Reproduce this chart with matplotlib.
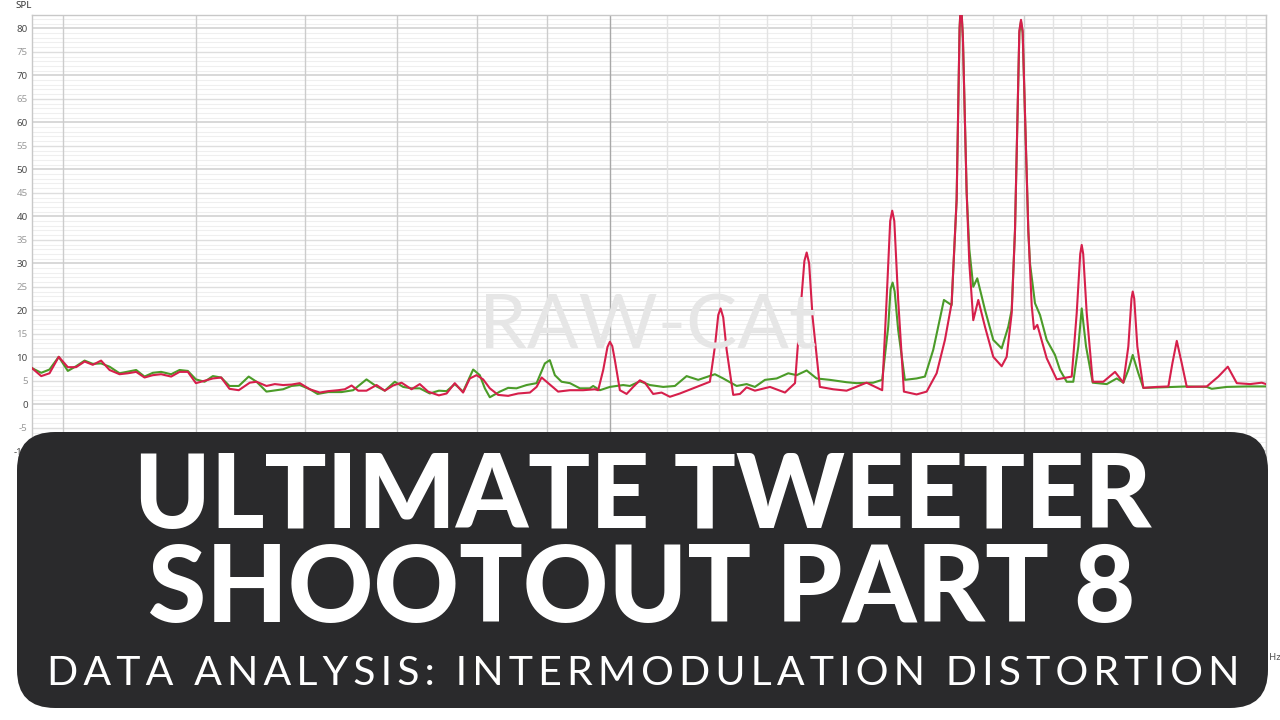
import matplotlib
matplotlib.use('Agg')
import matplotlib.pyplot as plt
from matplotlib.patches import FancyBboxPatch
from matplotlib.transforms import IdentityTransform

# ---------------- data ----------------
freq_red = [3800, 3859, 3913, 3974, 4035, 4091, 4150, 4207, 4266, 4327, 4400, 4461, 4524, 4588,
            4652, 4717, 4797, 4865, 4933, 5000, 5073, 5144, 5216, 5289, 5372, 5472, 5534, 5627,
            5706, 5786, 5868, 5950, 6051, 6153, 6240, 6345, 6416, 6489, 6561, 6653, 6766, 6860,
            6956, 7055, 7174, 7274, 7376, 7510, 7608, 7713, 7821, 7910, 7999, 8088, 8179, 8294,
            8434, 8576, 8747, 8845, 8920, 9019, 9170, 9353, 9563, 9751, 9806, 9889, 9960, 10000,
            10040, 10084, 10169, 10284, 10398, 10515, 10603, 10752, 10904, 11057, 11244, 11497,
            11823, 11923, 11990, 12037, 12090, 12159, 12294, 12433, 12573, 12749, 13074, 13407,
            13634, 13748, 13850, 13903, 13960, 14041, 14214, 14534, 14864, 15370, 15777, 15894,
            15990, 16044, 16100, 16205, 16361, 16713, 16996, 17283, 17525, 17722, 17871, 17960,
            18001, 18060, 18174, 18255, 18376, 18531, 18740, 19002, 19271, 19433, 19597, 19706,
            19850, 19905, 19960, 20150, 20265, 20343, 20456, 20780, 21131, 21669, 21851, 21980,
            22035, 22090, 22220, 22445, 22847, 23299, 23626, 23824, 23950, 24000, 24060, 24186,
            24430, 24985, 25476, 25647, 25837, 26054, 26273, 27168, 27701, 28141, 28568, 29212,
            29789, 30000]
spl_red = [7.7, 6.0, 6.6, 10.1, 7.9, 7.9, 9.1, 8.4, 9.3, 7.3, 6.4, 6.6, 6.9, 5.7,
           6.2, 6.4, 5.9, 6.9, 6.9, 4.5, 5.0, 5.5, 5.7, 3.3, 3.0, 4.6, 4.8, 3.9,
           4.3, 4.1, 4.2, 4.5, 3.2, 2.5, 2.8, 3.0, 3.2, 4.0, 2.9, 2.9, 4.1, 2.9,
           4.0, 4.6, 3.2, 4.3, 2.7, 1.9, 2.3, 4.5, 2.5, 5.5, 6.2, 5.3, 3.4, 2.0,
           1.8, 2.3, 2.5, 3.7, 5.7, 4.5, 2.7, 3.0, 3.0, 3.2, 3.0, 7.3, 12.2, 13.3,
           12.4, 9.4, 3.0, 2.2, 3.7, 5.1, 4.6, 2.2, 2.5, 1.6, 2.3, 3.4,
           4.8, 12.3, 19.0, 20.4, 18.5, 11.6, 2.0, 2.2, 3.6, 2.9, 3.7, 2.5,
           4.5, 18.6, 30.5, 32.3, 30.0, 18.6, 3.7, 3.2, 2.9, 4.6, 3.0, 22.2,
           39.0, 41.2, 39.0, 22.2, 2.7, 2.1, 2.7, 6.6, 13.7, 21.5, 43.5, 80.0,
           86.0, 78.0, 45.0, 30.0, 17.9, 22.2, 16.5, 10.1, 8.1, 10.1, 19.4, 37.0,
           79.5, 81.8, 79.5, 37.0, 21.0, 16.0, 16.9, 9.8, 5.3, 5.9, 19.4, 32.0,
           33.9, 32.0, 19.4, 4.8, 4.8, 6.9, 4.6, 12.3, 22.5, 24.0, 22.5, 12.3,
           3.5, 3.7, 3.8, 8.7, 13.5, 8.7, 3.7, 3.8, 5.9, 8.0, 4.5, 4.3,
           4.6, 4.3]

freq_green = [3800, 3859, 3913, 3974, 4035, 4091, 4150, 4207, 4266, 4327, 4400, 4524, 4588, 4652,
              4717, 4797, 4865, 4933, 5000, 5073, 5144, 5216, 5289, 5372, 5462, 5534, 5627, 5786,
              5868, 5950, 6051, 6130, 6240, 6380, 6506, 6653, 6766, 6860, 6976, 7074, 7174, 7274,
              7397, 7510, 7608, 7713, 7821, 7954, 8043, 8111, 8179, 8318, 8434, 8553, 8698, 8845,
              8969, 9043, 9120, 9223, 9353, 9510, 9670, 9724, 9834, 10000, 10225, 10341, 10515,
              10692, 10934, 11150, 11371, 11594, 11923, 12090, 12365, 12573, 12749, 12965, 13222,
              13481, 13672, 13903, 14136, 14454, 14864, 15115, 15541, 15777, 15937, 16000, 16055,
              16110, 16205, 16388, 16713, 16947, 17185, 17495, 17722, 17871, 17960, 18001, 18060,
              18174, 18255, 18376, 18500, 18740, 19002, 19271, 19485, 19597, 19706, 19850, 19905,
              19960, 20150, 20207, 20377, 20549, 20780, 21071, 21248, 21488, 21727, 21910, 22035,
              22195, 22445, 22978, 23366, 23626, 23824, 24000, 24227, 24430, 25119, 26273, 27168,
              27397, 28094, 29050, 30000]
spl_green = [7.7, 6.7, 7.4, 10.1, 7.1, 8.1, 9.3, 8.6, 8.7, 8.0, 6.6, 7.3, 5.9, 6.7,
             6.9, 6.4, 7.3, 7.1, 5.3, 4.8, 6.0, 5.7, 3.9, 3.9, 5.9, 4.8, 2.7, 3.2,
             3.9, 4.1, 3.2, 2.2, 2.6, 2.6, 3.0, 5.3, 3.8, 2.9, 4.8, 3.7, 3.4, 3.4,
             2.3, 2.9, 2.8, 4.3, 2.7, 7.4, 6.2, 3.4, 1.5, 2.7, 3.5, 3.4, 4.1, 4.5,
             8.7, 9.4, 6.2, 4.8, 4.5, 3.4, 3.4, 3.9, 3.0, 3.7, 4.1, 3.9, 4.9,
             4.1, 3.7, 3.9, 6.0, 5.2, 6.4, 5.5, 3.9, 4.3, 3.7, 5.2, 5.5,
             6.6, 6.2, 7.2, 5.5, 5.2, 4.7, 4.5, 4.6, 5.2, 16.5, 24.5, 25.9,
             24.0, 15.8, 5.2, 5.5, 5.9, 11.6, 22.2, 21.1, 43.5, 80.0, 86.0, 78.0,
             45.0, 33.0, 25.0, 26.8, 20.1, 13.7, 11.9, 16.5, 20.1, 37.0, 79.0, 81.5,
             79.0, 37.0, 30.0, 21.5, 19.0, 13.7, 10.5, 7.3, 4.8, 4.8, 12.3, 20.4,
             12.3, 4.6, 4.3, 5.5, 4.6, 7.3, 10.5, 6.6, 3.5, 3.6, 3.8, 3.7,
             3.3, 3.7, 3.8, 3.8]

ytick_values = list(range(-50, 85, 5))
ytick_labelled = list(range(-10, 85, 5))
vgrid_freqs = list(range(4000, 30001, 1000))
y_label = "SPL"
x_unit = "Hz"
watermark = "RAW-CAt"
title_lines = ["ULTIMATE TWEETER", "SHOOTOUT PART 8"]
subtitle = "DATA ANALYSIS: INTERMODULATION DISTORTION"

# ---------------- figure ----------------
W, H = 1280, 720
fig = plt.figure(figsize=(W / 100, H / 100), dpi=100)
fig.patch.set_facecolor('white')

ax_l, ax_r, ax_t, ax_b = 32, 1266, 15, 648
ax = fig.add_axes([ax_l / W, 1 - ax_b / H, (ax_r - ax_l) / W, (ax_b - ax_t) / H])
ax.set_xscale('log')
ax.set_xlim(3800, 30000)
ax.set_ylim(-51.85, 82.83)
ax.set_facecolor('white')

# horizontal grid: 1 dB minor, 5 dB, 10 dB
for v in range(-51, 83):
    if v % 10 == 0:
        c, lw = '#d2d2d2', 1.2
    elif v % 5 == 0:
        c, lw = '#dedede', 1.0
    else:
        c, lw = '#efefef', 0.8
    ax.axhline(v, color=c, lw=lw, zorder=0)

# vertical grid at every kHz
for f in vgrid_freqs:
    if f == 10000:
        c, lw = '#a8a8a8', 1.0
    elif f < 10000:
        c, lw = '#cccccc', 1.0
    elif f == 20000:
        c, lw = '#cfcfcf', 1.0
    else:
        c, lw = '#e3e3e3', 1.0
    ax.axvline(f, color=c, lw=lw, zorder=0)

for s in ax.spines.values():
    s.set_color('#c8c8c8')
    s.set_linewidth(1.0)

ax.set_xticks([])
ax.set_xticks([], minor=True)
ax.set_yticks(ytick_values)
ax.set_yticklabels([str(v) if v in ytick_labelled else '' for v in ytick_values],
                   family=['Noto Sans', 'DejaVu Sans'])
ax.tick_params(axis='y', length=0, labelsize=7, pad=3)
for v, lab in zip(ytick_values, ax.get_yticklabels()):
    lab.set_color('#4a4a4a' if v % 10 == 0 else '#9a9a9a')

# watermark
fig.text(648 / W, 1 - 327 / H, watermark, fontsize=55, color='#e6e6e6',
         family=['Lato', 'DejaVu Sans'], fontweight='normal', ha='center', va='center', zorder=1)

# curves
ax.plot(freq_green, spl_green, color='#4b9b28', lw=1.5, zorder=3, solid_joinstyle='round')
ax.plot(freq_red, spl_red, color='#d61f4b', lw=1.5, zorder=4, solid_joinstyle='round')

fig.text(15 / W, 1 - 6 / H, y_label, fontsize=7, color='#333333', ha='left', va='center',
         family=['Noto Sans', 'DejaVu Sans'])
fig.text(1269 / W, 1 - 657 / H, x_unit, fontsize=7, color='#555555', ha='left', va='center',
         family=['Noto Sans', 'DejaVu Sans'])

# banner
banner = FancyBboxPatch((17, H - 708), 1251, 276,
                        boxstyle="round,pad=0,rounding_size=38",
                        transform=IdentityTransform(), facecolor='#2a2a2c',
                        edgecolor='none', zorder=10)
fig.add_artist(banner)

renderer = fig.canvas.get_renderer()

def fitted_text(cx, baseline_y, s, target_w, **kw):
    t = fig.text(cx / W, 1 - baseline_y / H, s, ha='center', va='baseline', zorder=11, **kw)
    bb = t.get_window_extent(renderer)
    t.set_fontsize(t.get_fontsize() * target_w / bb.width)
    return t

fitted_text(642.5, 528, title_lines[0], 1019, fontsize=70, color='white',
            family=['Lato', 'DejaVu Sans'], fontweight='black')
fitted_text(641.5, 622, title_lines[1], 987, fontsize=70, color='white',
            family=['Lato', 'DejaVu Sans'], fontweight='black')

spaced = '\u2009 \u2009'.join('\u2009'.join(list(w)) for w in subtitle.split(' '))
fitted_text(643.5, 685, spaced, 1193, fontsize=28, color='white',
            family=['Lato', 'DejaVu Sans'], fontweight='normal')

fig.savefig('out.png', dpi=100, facecolor='white')
